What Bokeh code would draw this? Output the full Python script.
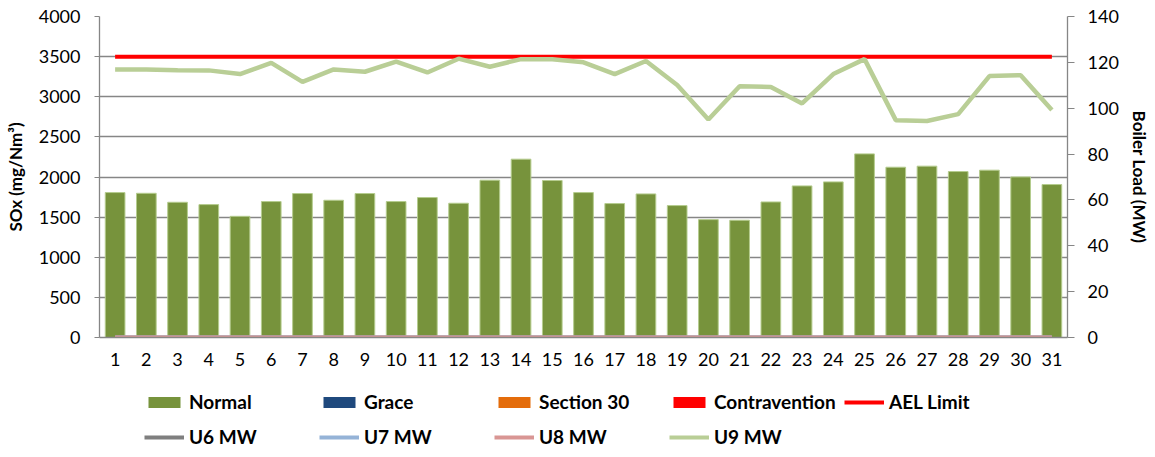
from bokeh.plotting import figure
from bokeh.layouts import column
from bokeh.models import Range1d, LinearAxis, FixedTicker, Legend, LegendItem
from bokeh.embed import file_html
from bokeh.resources import INLINE

days = list(range(1, 32))
normal = [1806, 1797, 1685, 1656, 1510, 1694, 1794, 1710, 1794, 1694, 1744, 1673, 1960, 2222, 1956, 1806,
          1669, 1789, 1644, 1469, 1461, 1689, 1889, 1939, 2288, 2122, 2135, 2068, 2085, 2001, 1906]
grace = [0] * 31
section30 = [0] * 31
contravention = [0] * 31
ael_limit = [3500] * 31
u6_mw = [0] * 31
u7_mw = [0] * 31
u8_mw = [0] * 31
u9_mw = [116.9, 116.9, 116.6, 116.5, 114.9, 119.8, 111.5, 116.9, 115.9, 120.3, 115.6, 121.6, 118.1, 121.4, 121.4, 120.0,
         114.9, 120.6, 110.1, 95.1, 109.6, 109.3, 102.1, 114.9, 121.4, 94.8, 94.4, 97.4, 114.0, 114.4, 99.2]
left_ticks = [0, 500, 1000, 1500, 2000, 2500, 3000, 3500, 4000]
right_ticks = [0, 20, 40, 60, 80, 100, 120, 140]

FONT = "Lato"
GRID = "#868686"
C_NORMAL, C_GRACE, C_SEC, C_CON = "#77933C", "#1F497D", "#E46C0A", "#FF0000"
C_AEL, C_U6, C_U7, C_U8, C_U9 = "#FF0000", "#7F7F7F", "#95B3D7", "#D99694", "#B9CE96"

p = figure(width=1155, height=372, x_range=Range1d(0.5, 31.5), y_range=Range1d(0, 4000),
           output_backend="svg", toolbar_location=None,
           min_border_left=99, min_border_right=88, min_border_top=16, min_border_bottom=35)
p.extra_y_ranges = {"mw": Range1d(0, 140)}
p.outline_line_color = None
p.xgrid.grid_line_color = None
p.ygrid.grid_line_color = GRID
p.ygrid.grid_line_width = 1.3
p.ygrid.ticker = FixedTicker(ticks=left_ticks)

# bars
p.vbar(x=days, top=normal, width=0.63, fill_color=C_NORMAL, line_color="#B5CC8E", line_width=1)
p.vbar(x=days, top=grace, width=0.63, fill_color=C_GRACE, line_color=None)
p.vbar(x=days, top=section30, width=0.63, fill_color=C_SEC, line_color=None)
p.vbar(x=days, top=contravention, width=0.63, fill_color=C_CON, line_color=None)

# lines
p.line(days, ael_limit, line_color=C_AEL, line_width=4)
p.line(days, u6_mw, y_range_name="mw", line_color=C_U6, line_width=4)
p.line(days, u7_mw, y_range_name="mw", line_color=C_U7, line_width=4)
p.line(days, u8_mw, y_range_name="mw", line_color=C_U8, line_width=4)
p.line(days, u9_mw, y_range_name="mw", line_color=C_U9, line_width=4.5)

# axes
xa = p.xaxis[0]
xa.ticker = FixedTicker(ticks=days)
xa.major_tick_line_color = None
xa.minor_tick_line_color = None
xa.axis_line_color = GRID
xa.axis_line_width = 1.3
xa.major_label_standoff = 9
xa.major_label_text_font = FONT
xa.major_label_text_font_size = "18px"
xa.major_label_text_color = "black"

ya = p.yaxis[0]
ya.ticker = FixedTicker(ticks=left_ticks)
ya.axis_label = "SOx (mg/Nm³)"
ya.axis_label_text_font = FONT
ya.axis_label_text_font_style = "bold"
ya.axis_label_text_font_size = "17px"
ya.axis_label_text_color = "black"
ya.axis_label_standoff = 10
ya.major_tick_out = 5
ya.major_tick_in = 0
ya.minor_tick_line_color = None
ya.major_tick_line_color = GRID
ya.axis_line_color = GRID
ya.axis_line_width = 1.3
ya.major_label_standoff = 14
ya.major_label_text_font = FONT
ya.major_label_text_font_size = "18px"
ya.major_label_text_color = "black"

ra = LinearAxis(y_range_name="mw", ticker=FixedTicker(ticks=right_ticks))
ra.axis_label = "Boiler Load (MW)"
ra.axis_label_text_font = FONT
ra.axis_label_text_font_style = "bold"
ra.axis_label_text_font_size = "17px"
ra.axis_label_text_color = "black"
ra.axis_label_standoff = 7
ra.major_tick_out = 7
ra.major_tick_in = 0
ra.minor_tick_line_color = None
ra.major_tick_line_color = GRID
ra.axis_line_color = GRID
ra.axis_line_width = 1.3
ra.major_label_standoff = 13
ra.major_label_text_font = FONT
ra.major_label_text_font_size = "18px"
ra.major_label_text_color = "black"
p.add_layout(ra, "right")

# legend strip (separate canvas below the chart); proxies carry the same data but are hidden
lg = figure(width=1155, height=77, x_range=Range1d(0.5, 31.5), y_range=Range1d(0, 4000),
            output_backend="svg", toolbar_location=None, min_border=0)
lg.axis.visible = False
lg.grid.visible = False
lg.outline_line_color = None

k_normal = lg.vbar(x=days, top=normal, width=0.63, fill_color=C_NORMAL, line_color=None, visible=False)
k_grace = lg.vbar(x=days, top=grace, width=0.63, fill_color=C_GRACE, line_color=None, visible=False)
k_sec = lg.vbar(x=days, top=section30, width=0.63, fill_color=C_SEC, line_color=None, visible=False)
k_con = lg.vbar(x=days, top=contravention, width=0.63, fill_color=C_CON, line_color=None, visible=False)
k_ael = lg.line(days, ael_limit, line_color=C_AEL, line_width=4, visible=False)
k_u6 = lg.line(days, u6_mw, line_color=C_U6, line_width=4, visible=False)
k_u7 = lg.line(days, u7_mw, line_color=C_U7, line_width=4, visible=False)
k_u8 = lg.line(days, u8_mw, line_color=C_U8, line_width=4, visible=False)
k_u9 = lg.line(days, u9_mw, line_color=C_U9, line_width=4, visible=False)


def make_legend(items, loc):
    return Legend(items=items, location=loc, orientation="horizontal",
                  glyph_width=40, glyph_height=14, label_width=130, label_height=22,
                  label_standoff=5, spacing=0, padding=0, margin=0,
                  border_line_color=None, background_fill_alpha=0,
                  inactive_fill_alpha=0,
                  label_text_font=FONT, label_text_font_style="bold",
                  label_text_font_size="19px", label_text_color="black")


row1 = [LegendItem(label="Normal", renderers=[k_normal]),
        LegendItem(label="Grace", renderers=[k_grace]),
        LegendItem(label="Section 30", renderers=[k_sec]),
        LegendItem(label="Contravention", renderers=[k_con]),
        LegendItem(label="AEL Limit", renderers=[k_ael])]
row2 = [LegendItem(label="U6 MW", renderers=[k_u6]),
        LegendItem(label="U7 MW", renderers=[k_u7]),
        LegendItem(label="U8 MW", renderers=[k_u8]),
        LegendItem(label="U9 MW", renderers=[k_u9])]

lg.add_layout(make_legend(row1, (45, 36)), "center")
lg.add_layout(make_legend(row2, (45, 1)), "center")

open("out.html", "w").write(file_html(column(p, lg), INLINE))
